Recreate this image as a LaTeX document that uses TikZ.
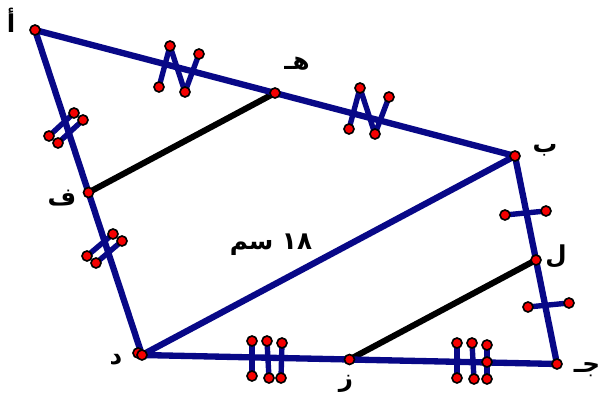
\documentclass[tikz,border=0pt]{standalone}
\usepackage{fontspec}
\usetikzlibrary{calc}
\newfontfamily\arabicfont[Script=Arabic]{DejaVu Sans}
\TeXXeTstate=1
\definecolor{sideblue}{RGB}{8,8,135}
\definecolor{ptred}{RGB}{245,0,0}
\tikzset{
  side/.style={draw=sideblue, line width=5.4pt, line cap=round, line join=round},
  midseg/.style={draw=black, line width=5.2pt},
  hashmark/.style={draw=sideblue, line width=4.6pt, line join=round},
  pt/.style={fill=ptred, draw=black, line width=1.4pt},
  lbl/.style={font=\arabicfont\bfseries\fontsize{21}{24}\selectfont, inner sep=0pt}
}
\begin{document}
\begin{tikzpicture}[x=0.03cm, y=-0.03cm]
    \useasboundingbox (0,0) rectangle (603,405);
    \def\rpt{0.15cm}

    % Vertices
    \coordinate (A) at (35,30);
    \coordinate (B) at (515,156);
    \coordinate (C) at (557,364);
    \coordinate (D) at (142,355);
    \coordinate (D2) at (138,353);
    % Midpoints
    \coordinate (E) at ($(A)!0.5!(B)$);
    \coordinate (F) at ($(A)!0.5!(D)$);
    \coordinate (L) at ($(B)!0.5!(C)$);
    \coordinate (Z) at ($(D)!0.5!(C)$);

    % Midsegments
    \draw[midseg] (F) -- (E);
    \draw[midseg] (Z) -- (L);

    % Sides and diagonal
    \draw[side] (A) -- (B) -- (C) -- (D) -- cycle;
    \draw[side] (D) -- (B);

    % Zigzag marks on AE and EB
    \coordinate (z1) at (159,87);  \coordinate (z2) at (170,46);
    \coordinate (z3) at (185,92);  \coordinate (z4) at (199,54);
    \coordinate (w1) at (349,129); \coordinate (w2) at (360,88);
    \coordinate (w3) at (375,134); \coordinate (w4) at (389,97);
    \draw[hashmark] (z1) -- (z2) -- (z3) -- (z4);
    \draw[hashmark] (w1) -- (w2) -- (w3) -- (w4);

    % Double marks on AF and FD
    \coordinate (p1) at (49,136);  \coordinate (p2) at (74,113);
    \coordinate (p3) at (58,143);  \coordinate (p4) at (83,120);
    \coordinate (q1) at (87,256);  \coordinate (q2) at (113,234);
    \coordinate (q3) at (96,263);  \coordinate (q4) at (122,241);
    \draw[hashmark] (p1) -- (p2);
    \draw[hashmark] (p3) -- (p4);
    \draw[hashmark] (q1) -- (q2);
    \draw[hashmark] (q3) -- (q4);

    % Single marks on BL and LC
    \coordinate (s1) at (505,215); \coordinate (s2) at (546,211);
    \coordinate (t1) at (528,307); \coordinate (t2) at (569,303);
    \draw[hashmark] (s1) -- (s2);
    \draw[hashmark] (t1) -- (t2);

    % Triple marks on DZ and ZC
    \coordinate (u1) at (252,341); \coordinate (u2) at (252,376);
    \coordinate (u3) at (267,341); \coordinate (u4) at (269,378);
    \coordinate (u5) at (282,343); \coordinate (u6) at (281,378);
    \coordinate (v1) at (457,343); \coordinate (v2) at (457,378);
    \coordinate (v3) at (472,343); \coordinate (v4) at (474,379);
    \coordinate (v5) at (487,345); \coordinate (v6) at (487,379);
    \coordinate (v7) at (487,362);
    \draw[hashmark] (u1) -- (u2);
    \draw[hashmark] (u3) -- (u4);
    \draw[hashmark] (u5) -- (u6);
    \draw[hashmark] (v1) -- (v2);
    \draw[hashmark] (v3) -- (v4);
    \draw[hashmark] (v5) -- (v6);

    % Points
    \foreach \p in {z1,z2,z3,z4,w1,w2,w3,w4,p1,p2,p3,p4,q1,q2,q3,q4,
                    s1,s2,t1,t2,u1,u2,u3,u4,u5,u6,v1,v2,v3,v4,v5,v6,v7,
                    A,B,C,D2,D,E,F,L,Z}
        \filldraw[pt] (\p) circle (\rpt);

    % Labels
    \node[lbl] (lA) at (11,20) {\beginR أ\endR};
    \node[lbl] (lE) at (297,64) {\beginR هـ\endR};
    \node[lbl] (lB) at (545,150) {\beginR ب\endR};
    \node[lbl] (lF) at (62,198) {\beginR ف\endR};
    \node[lbl] (lL) at (556,256) {\beginR ل\endR};
    \node[lbl] (lC) at (587,370) {\beginR جـ\endR};
    \node[lbl] (lD) at (116,360) {\beginR د\endR};
    \node[lbl] (lZ) at (346,384) {\beginR ز\endR};
    \node[lbl] (len) at (271,245) {\beginR\beginL ١٨\endL{} سم\endR};
\end{tikzpicture}
\end{document}
